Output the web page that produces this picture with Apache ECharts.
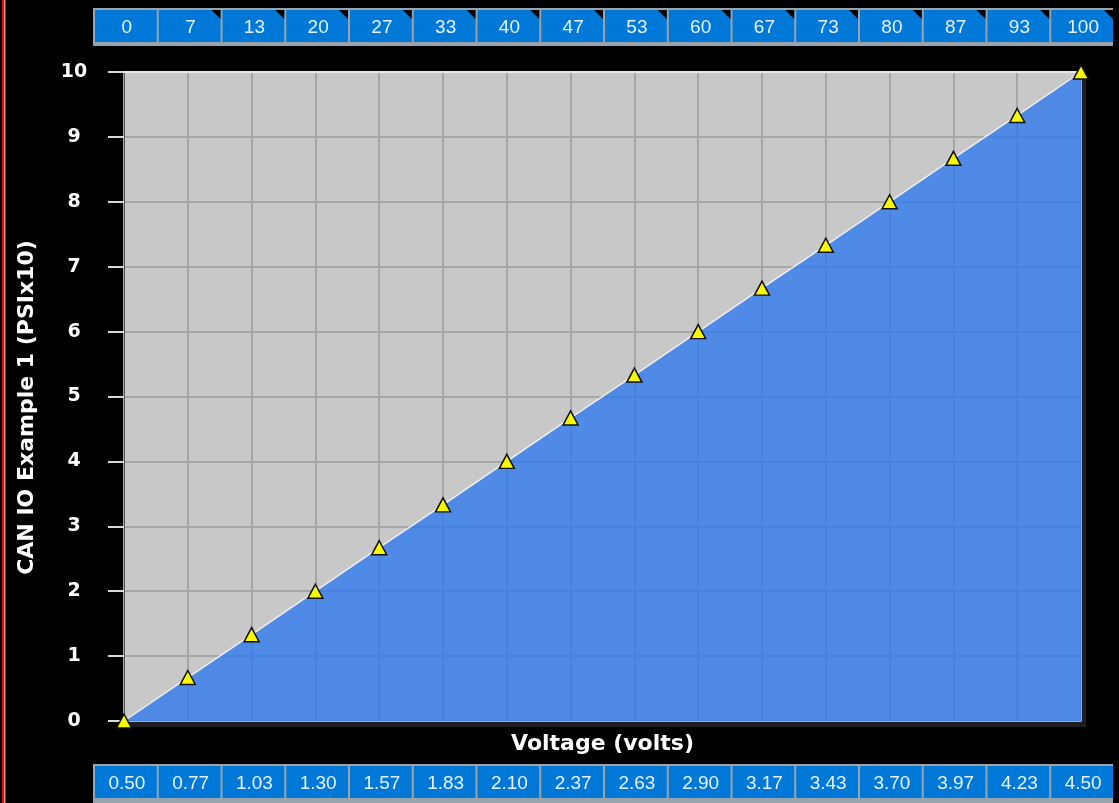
<!DOCTYPE html>
<html>
<head>
	<meta charset="utf-8">
	<title>CAN IO Example 1</title>
	<script src="https://cdn.jsdelivr.net/npm/echarts@6/dist/echarts.min.js"></script>
	<style>
		html, body { margin: 0; padding: 0; background: #000; }
		#main { width: 1119px; height: 803px; }
	</style>
</head>
<body>
	<div id="main"></div>
	<script type="text/javascript">
		// voltage breakpoints (bottom row) and percent row (top)
		var voltages = ['0.50', '0.77', '1.03', '1.30', '1.57', '1.83', '2.10', '2.37', '2.63', '2.90', '3.17', '3.43', '3.70', '3.97', '4.23', '4.50'];
		var percents = ['0', '7', '13', '20', '27', '33', '40', '47', '53', '60', '67', '73', '80', '87', '93', '100'];
		// output values (PSIx10)
		var psiValues = [0, 0.67, 1.33, 2, 2.67, 3.33, 4, 4.67, 5.33, 6, 6.67, 7.33, 8, 8.67, 9.33, 10];
		var yTicks = [0, 10, 1]; // min, max, interval

		var font = 'Arial, "Liberation Sans", sans-serif';
		var boldFont = '"DejaVu Sans", Verdana, sans-serif';

		// draws one table cell of a header / footer row
		function cellRenderer(labels, corner) {
			return function (params, api) {
				var cs = params.coordSys;
				var c = api.coord([api.value(0), 0]);
				var w = api.size([1, 0])[0];
				var x1 = c[0] - w / 2 + 2;
				var y1 = cs.y + 2;
				var h = 32;
				var kids = [{
					type: 'rect',
					shape: { x: x1, y: y1, width: w - 2, height: h },
					style: { fill: '#0078d7' }
				}, {
					type: 'text',
					style: {
						text: labels[params.dataIndex],
						x: c[0] + 2, y: y1 + h / 2 + 2,
						align: 'center', verticalAlign: 'middle',
						fill: '#e6f2ff', fontSize: 19, fontFamily: font
					}
				}];
				if (corner && params.dataIndex > 0) {
					var x2 = x1 + w - 2;
					kids.push({
						type: 'polygon',
						shape: { points: [[x2 - 9, y1], [x2, y1], [x2, y1 + 9]] },
						style: { fill: '#000' }
					});
				}
				return { type: 'group', children: kids };
			};
		}

		var myChart = echarts.init(document.getElementById('main'));

		myChart.setOption({
			backgroundColor: '#000',
			animation: false,
			graphic: [{
				type: 'rect',
				shape: { x: 2, y: 0, width: 4, height: 803 },
				style: { fill: '#ee1010' }
			}, {
				type: 'rect',
				shape: { x: 4, y: 0, width: 1, height: 803 },
				style: { fill: '#f58a8a' }
			}],
			grid: [{
				left: 124, right: 38, top: 72, bottom: 82,
				show: true,
				backgroundColor: '#c8c8c8',
				borderWidth: 0,
				shadowColor: '#1e1e1e',
				shadowOffsetX: 5,
				shadowOffsetY: 6,
				shadowBlur: 0
			}, {
				left: 93, right: 6, top: 8, height: 38,
				show: true,
				backgroundColor: '#9aa4ac',
				borderWidth: 0
			}, {
				left: 93, right: 6, top: 764, height: 45,
				show: true,
				backgroundColor: '#9aa4ac',
				borderWidth: 0
			}],
			xAxis: [{
				gridIndex: 0,
				type: 'category',
				data: voltages,
				boundaryGap: false,
				name: 'Voltage (volts)',
				nameLocation: 'middle',
				nameGap: 12,
				nameTextStyle: { color: '#fff', fontSize: 22, fontWeight: 'bold', fontFamily: boldFont },
				axisLine: { lineStyle: { color: '#b0b0b0' } },
				axisTick: { show: false },
				axisLabel: { show: false },
				splitLine: { show: true, lineStyle: { color: '#a6a6a6', width: 2 } }
			}, {
				// light top edge of the plot
				gridIndex: 0,
				type: 'category',
				data: voltages,
				boundaryGap: false,
				position: 'top',
				axisLine: { show: true, lineStyle: { color: '#e8e8e8', width: 2 } },
				axisTick: { show: false },
				axisLabel: { show: false },
				splitLine: { show: false }
			}, {
				gridIndex: 1, type: 'category', data: percents, show: false
			}, {
				gridIndex: 2, type: 'category', data: voltages, show: false
			}],
			yAxis: [{
				gridIndex: 0,
				type: 'value',
				min: yTicks[0], max: yTicks[1], interval: yTicks[2],
				name: 'CAN IO Example 1 (PSIx10)',
				nameLocation: 'middle',
				nameGap: 86,
				nameTextStyle: { color: '#fff', fontSize: 22, fontWeight: 'bold', fontFamily: boldFont, padding: [0, 22, 0, 0] },
				axisLine: { show: true, lineStyle: { color: '#555' } },
				axisTick: { show: true, length: 16, lineStyle: { color: '#d8d8d8', width: 2 } },
				axisLabel: { color: '#fff', fontSize: 19, fontWeight: 'bold', fontFamily: boldFont, margin: 50, align: 'center' },
				splitLine: { show: true, lineStyle: { color: '#a6a6a6', width: 2 } }
			}, {
				gridIndex: 1, type: 'value', min: 0, max: 1, show: false
			}, {
				gridIndex: 2, type: 'value', min: 0, max: 1, show: false
			}],
			series: [{
				type: 'line',
				xAxisIndex: 0, yAxisIndex: 0,
				data: psiValues,
				symbol: 'triangle',
				symbolSize: [15, 14],
				itemStyle: { color: '#f8f800', borderColor: '#111', borderWidth: 1.5 },
				lineStyle: { color: '#eeeeee', width: 1.5 },
				areaStyle: { color: 'rgba(39,119,240,0.75)', opacity: 1 }
			}, {
				type: 'custom',
				xAxisIndex: 2, yAxisIndex: 1,
				data: percents.map(function (p, i) { return [i, 0]; }),
				renderItem: cellRenderer(percents, true)
			}, {
				type: 'custom',
				xAxisIndex: 3, yAxisIndex: 2,
				data: voltages.map(function (v, i) { return [i, 0]; }),
				renderItem: cellRenderer(voltages, false)
			}]
		});
	</script>
</body>
</html>
